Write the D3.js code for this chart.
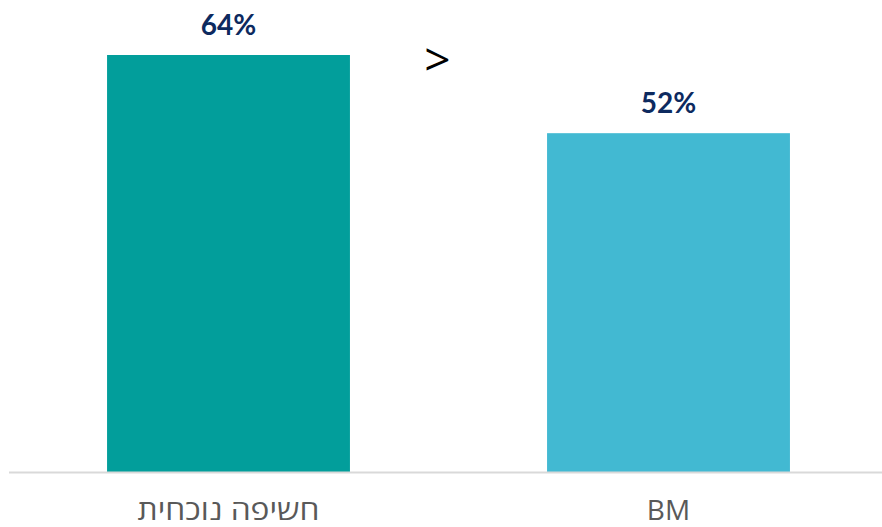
<!DOCTYPE html>
<html>
<head>
<meta charset="utf-8">
<script src="https://cdn.jsdelivr.net/npm/d3@7"></script>
<style>
  html, body { margin: 0; padding: 0; background: #ffffff; }
  svg { display: block; }
</style>
</head>
<body>
<svg id="chart" width="882" height="527"></svg>
<script>
// Exposure comparison: current exposure vs. benchmark
const categories = ["חשיפה נוכחית", "BM"];
const values = [64, 52];
const valueLabels = ["64%", "52%"];
const barColors = ["#029e9b", "#42b9d2"];

const width = 882, height = 527;
const baseline = 472;

const svg = d3.select("#chart");

const x = d3.scaleBand()
  .domain(categories)
  .range([8.5, 888.5])
  .paddingInner(0.448)
  .paddingOuter(0.224);

const y = d3.scaleLinear()
  .domain([0, 64])
  .range([baseline, 55]);

// bars
svg.selectAll("rect.bar")
  .data(values)
  .join("rect")
  .attr("class", "bar")
  .attr("x", (d, i) => x(categories[i]))
  .attr("y", d => y(d))
  .attr("width", x.bandwidth())
  .attr("height", d => y(0) - y(d))
  .attr("fill", (d, i) => barColors[i]);

// category axis
const axis = svg.append("g")
  .attr("transform", `translate(0,${baseline})`)
  .call(d3.axisBottom(x).tickSize(0).tickPadding(0));
axis.select(".domain").remove();
axis.append("line")
  .attr("x1", 9).attr("x2", 882)
  .attr("y1", 0.5).attr("y2", 0.5)
  .attr("stroke", "#d9d9d9")
  .attr("stroke-width", 2);
axis.selectAll(".tick text")
  .attr("font-family", "'Open Sans', 'Noto Sans', sans-serif")
  .attr("font-size", 28)
  .attr("fill", "#595959")
  .attr("y", 48)
  .attr("dy", null)
  .attr("dominant-baseline", "auto");
// the Hebrew label is set a little wider, as in the original typeface
axis.selectAll(".tick text")
  .filter(d => d === categories[0])
  .attr("textLength", 182)
  .attr("lengthAdjust", "spacingAndGlyphs");

// value labels
svg.selectAll("text.value")
  .data(values)
  .join("text")
  .attr("class", "value")
  .attr("x", (d, i) => x(categories[i]) + x.bandwidth() / 2)
  .attr("y", d => y(d) - 20)
  .attr("text-anchor", "middle")
  .attr("font-family", "Lato, 'Open Sans', sans-serif")
  .attr("font-weight", "bold")
  .attr("font-size", 28)
  .attr("fill", "#0d2a5f")
  .text((d, i) => valueLabels[i]);

// comparison sign between the bars
svg.append("text")
  .attr("x", (x(categories[0]) + x(categories[1]) + x.bandwidth()) / 2 - 11)
  .attr("y", 76)
  .attr("text-anchor", "middle")
  .attr("font-family", "'Open Sans', sans-serif")
  .attr("font-size", 46)
  .attr("fill", "#000000")
  .text(">");
</script>
</body>
</html>
